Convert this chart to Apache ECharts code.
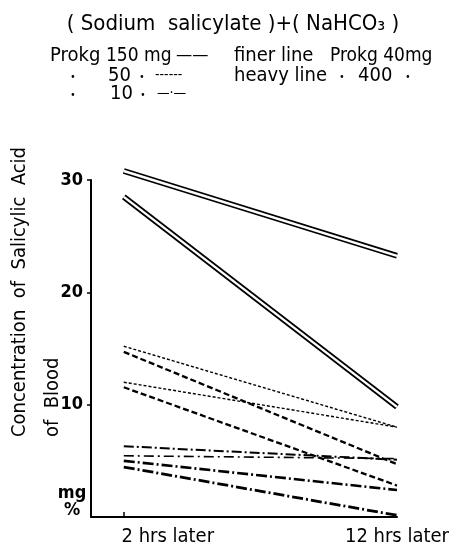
<!DOCTYPE html>
<html><head><meta charset="utf-8">
<script src="https://cdn.jsdelivr.net/npm/echarts@6/dist/echarts.min.js"></script>
<style>html,body{margin:0;padding:0;background:#fff}#c{width:452px;height:548px}</style>
</head><body><div id="c"></div>
<script>
// ---- data ----
const hours = [2, 12];
const xTickLabels = ['2 hrs later', '12 hrs later'];
const yTicks = [10, 20, 30];
// Prokg 150 mg (solid, double-drawn)
const p150_finer = [30.8, 23.25];
const p150_heavy = [28.5, 9.8];
// Prokg 50 mg (dashed)
const p50_finer_a = [15.2, 8.0];
const p50_finer_b = [12.0, 8.0];
const p50_heavy_a = [14.7, 4.7];
const p50_heavy_b = [11.55, 2.8];
// Prokg 10 mg (dash-dot)
const p10_finer_a = [6.3, 5.1];
const p10_finer_b = [5.45, 5.2];
const p10_heavy_a = [5.0, 2.4];
const p10_heavy_b = [4.45, 0.15];

const FONT = "'DejaVu Sans Condensed','Liberation Sans',sans-serif";

function pts(vals){ return hours.map((h,i)=>[h, vals[i]]); }
function line(name, vals, ls, z){
  return {name, type:'line', data:pts(vals), symbol:'none', silent:true, clip:false, z:z||2,
    lineStyle:Object.assign({color:'#000', cap:'butt'}, ls)};
}
const series = [];
[['150 finer',p150_finer],['150 heavy',p150_heavy]].forEach(([n,v])=>{
  series.push(line(n, v, {width:5.8, type:'solid'}, 2));
  series.push(line(n+' inner', v, {width:2.4, type:'solid', color:'#fff'}, 3));
});
series.push(line('50 finer a', p50_finer_a, {width:1.4, type:[3,2]}));
series.push(line('50 finer b', p50_finer_b, {width:1.4, type:[3,2]}));
series.push(line('50 heavy a', p50_heavy_a, {width:2.3, type:[6,3]}));
series.push(line('50 heavy b', p50_heavy_b, {width:2.3, type:[6,3]}));
series.push(line('10 finer a', p10_finer_a, {width:2, type:[10,3,2,3]}));
series.push(line('10 finer b', p10_finer_b, {width:1.6, type:[10,4,2,4]}));
series.push(line('10 heavy a', p10_heavy_a, {width:2.6, type:[11,3,2,3]}));
series.push(line('10 heavy b', p10_heavy_b, {width:2.8, type:[11,3,2,3]}));

function txt(x, y, s, size, extra){
  return {type:'text', x, y, silent:true, style:Object.assign({text:s, font:(size||19)+'px '+FONT, fill:'#000', textAlign:'left', textVerticalAlign:'middle'}, extra||{})};
}
const dot = (x, y) => txt(x, y, '\u2022', 10, {textAlign:'center'});
const graphics = [
  txt(233, 24, '( Sodium  salicylate )+( NaHCO\u2083 )', 22, {textAlign:'center'}),
  txt(50, 56, 'Prokg', 20), txt(106, 56, '150 mg', 19), txt(176, 55, '\u2014\u2014', 18),
  txt(234, 56, 'finer line', 20), txt(330, 56, 'Prokg 40mg', 19),
  dot(73, 77), txt(108, 76, '50', 20), dot(142, 77),
  txt(155, 75, '------', 14), txt(234, 76, 'heavy line', 20),
  dot(342, 77), txt(358, 76, '400', 20), dot(408, 77),
  dot(73, 95), txt(110, 94, '10', 20), dot(143, 95),
  txt(157, 93, '\u2014\u00b7\u2014', 14),
  {type:'text', x:20, y:437, rotation:Math.PI/2, silent:true, style:{text:'Concentration  of  Salicylic  Acid', font:'20px '+FONT, fill:'#000', textAlign:'left', textVerticalAlign:'middle'}},
  {type:'text', x:53, y:437, rotation:Math.PI/2, silent:true, style:{text:'of  Blood', font:'20px '+FONT, fill:'#000', textAlign:'left', textVerticalAlign:'middle'}},
  txt(72, 493, 'mg', 18, {textAlign:'center', font:'bold 18px '+FONT}),
  txt(72, 510, '%', 18, {textAlign:'center', font:'bold 18px '+FONT})
];

const chart = echarts.init(document.getElementById('c'), null, {renderer:'canvas'});
chart.setOption({
  animation:false,
  backgroundColor:'#fff',
  grid:{left:91, right:52, top:180, bottom:31, containLabel:false},
  xAxis:{type:'value', min:0.8, max:12,
    axisLine:{show:true, lineStyle:{color:'#000', width:2}},
    splitLine:{show:false},
    axisTick:{show:true, inside:true, length:5, customValues:[hours[0]], lineStyle:{color:'#000', width:1.5}},
    axisLabel:{show:true, customValues:hours, margin:10, color:'#000',
      formatter:function(v){ const i = hours.indexOf(v); return i===0 ? '{a|'+xTickLabels[0]+'}' : '{b|'+xTickLabels[1]+'}'; },
      rich:{a:{fontFamily:FONT, fontSize:20, color:'#000', padding:[0,0,0,88]}, b:{fontFamily:FONT, fontSize:20, color:'#000'}}}
  },
  yAxis:{type:'value', min:0, max:30, interval:10,
    axisLine:{show:true, lineStyle:{color:'#000', width:2}},
    splitLine:{show:false},
    axisTick:{show:true, length:4, customValues:yTicks, lineStyle:{color:'#000', width:1.5}},
    axisLabel:{show:true, customValues:yTicks, margin:8, color:'#000', fontFamily:FONT, fontSize:18, fontWeight:'bold'}
  },
  graphic:graphics,
  series:series
});
</script></body></html>
